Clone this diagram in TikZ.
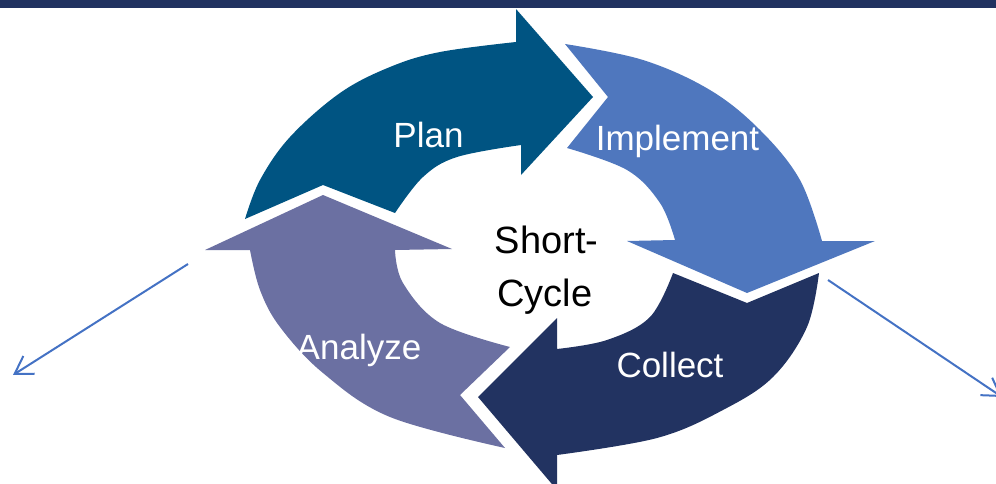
\documentclass[tikz,border=0pt]{standalone}
\usepackage{fontspec}
\setmainfont{Liberation Sans}
\usetikzlibrary{arrows.meta}
\definecolor{barcol}{RGB}{33,50,96}
\definecolor{plancol}{RGB}{0,84,130}
\definecolor{implcol}{RGB}{79,119,190}
\definecolor{collcol}{RGB}{34,51,97}
\definecolor{analcol}{RGB}{107,112,162}
\definecolor{thincol}{RGB}{68,114,196}
\tikzset{
  lbl/.style={text=white, font=\fontsize{35}{40}\selectfont, anchor=base, inner sep=0pt},
  ctr/.style={text=black, font=\fontsize{38}{44}\selectfont, anchor=base, inner sep=0pt},
  thinarrow/.style={draw=thincol, line width=2pt, -{Straight Barb[length=17pt,width=21pt,line width=2pt]}},
  curve/.style={smooth, tension=0.6}
}
\begin{document}
\begin{tikzpicture}[x=1pt,y=-1pt]
\useasboundingbox (0,0) rectangle (996,484);
\clip (0,0) rectangle (996,484);
% top bar
\fill[barcol] (0,0) rectangle (996,8);
% Plan arrow
\fill[plancol] (245,219) -- plot[curve] coordinates {(245,219) (260,180) (290,137) (340,93) (390,67) (440,52) (516,42)}
  -- (516,9) -- (593,97) -- (521,175) -- (521,145)
  -- plot[curve] coordinates {(521,145) (457,157) (423,177) (395,213)}
  -- (323,185) -- cycle;
% Implement arrow
\fill[implcol] (565,44) -- plot[curve] coordinates {(565,44) (643,60) (710,90) (760,130) (800,180) (822,241)}
  -- (875,241) -- (747,293) -- (627,241) -- (675,240)
  -- plot[curve] coordinates {(675,240) (660,203) (627,170) (567,148)}
  -- (608,97) -- cycle;
% Collect arrow
\fill[collcol] (673,273) -- (747,303) -- (819,273)
  -- plot[curve] coordinates {(819,273) (807,327) (773,377) (723,410) (657,438) (557,455)}
  -- (557,490) -- (478,397) -- (557,318) -- (557,349)
  -- plot[curve] coordinates {(557,349) (607,340) (650,317) (673,273)}
  -- cycle;
% Analyze arrow
\fill[analcol] (205,250) -- (323,195) -- (452,249) -- (395,250)
  -- plot[curve] coordinates {(395,250) (403,283) (440,323) (510,347)}
  -- (460,395) -- (505,448)
  -- plot[curve] coordinates {(505,448) (390,417) (323,373) (280,327) (260,290) (250,250)}
  -- cycle;
% labels
\node[lbl] (plan) at (428.5,147) {Plan};
\node[lbl] (impl) at (677.5,151) {Implement};
\node[lbl] (coll) at (670,377) {Collect};
\node[lbl] (anal) at (359,359) {Analyze};
\node[ctr] (short) at (546.5,253) {Short-};
\node[ctr] (cycle) at (545,306) {Cycle};
% thin arrows
\coordinate (ls) at (188,264);
\coordinate (le) at (13,375);
\coordinate (rs) at (828,280);
\coordinate (re) at (1002,397);
\draw[thinarrow] (ls) -- (le);
\draw[thinarrow] (rs) -- (re);
\end{tikzpicture}
\end{document}
